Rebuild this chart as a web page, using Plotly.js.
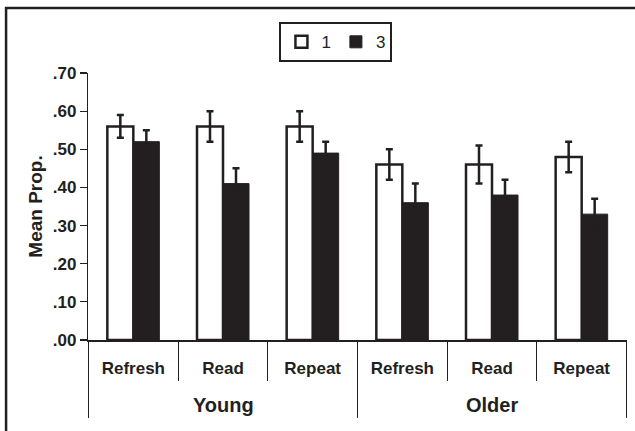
<!DOCTYPE html>
<html>
<head>
<meta charset="utf-8">
<script src="https://cdn.plot.ly/plotly-3.0.1.min.js"></script>
<style>html,body{margin:0;padding:0;background:#fff;}#chart{width:635px;height:431px;}</style>
</head>
<body>
<div id="chart"></div>
<script>
var groups = ["Young", "Young", "Young", "Older", "Older", "Older"];
var tasks = ["Refresh", "Read", "Repeat", "Refresh", "Read", "Repeat"];
var series1 = [0.56, 0.56, 0.56, 0.46, 0.46, 0.48];
var series1Err = [0.03, 0.04, 0.04, 0.04, 0.05, 0.04];
var series3 = [0.52, 0.41, 0.49, 0.36, 0.38, 0.33];
var series3Err = [0.03, 0.04, 0.03, 0.05, 0.04, 0.04];
var yTickVals = [0, 0.1, 0.2, 0.3, 0.4, 0.5, 0.6, 0.7];
var yTickText = [".00", ".10", ".20", ".30", ".40", ".50", ".60", ".70"];

var ink = "#231f20";
var FONT = "Liberation Sans, Arial, sans-serif";

// unique category keys built from the two label arrays
var xKeys = groups.map(function (g, i) { return g + " " + tasks[i]; });

var traces = [
  {
    type: "bar", name: "1", x: xKeys, y: series1,
    marker: {color: "#ffffff", line: {color: ink, width: 2.5}},
    error_y: {type: "data", array: series1Err, visible: true, color: ink, thickness: 2.5, width: 3.5}
  },
  {
    type: "bar", name: "3", x: xKeys, y: series3,
    marker: {color: ink, line: {color: ink, width: 1}},
    error_y: {type: "data", array: series3Err, visible: true, color: ink, thickness: 2.5, width: 3.5}
  }
];

// group boundaries and group centres (category index units)
var shapes = [
  {type: "rect", xref: "paper", yref: "paper", x0: -0.152, x1: 1.2, y0: -0.6, y1: 1.243,
   line: {color: ink, width: 2.5}, fillcolor: "rgba(0,0,0,0)", layer: "above"}
];
var annotations = [
  {text: "Mean Prop.", xref: "paper", yref: "paper", x: -0.098, y: 0.5,
   xanchor: "center", yanchor: "middle", textangle: -90, showarrow: false,
   font: {family: FONT, size: 19, color: ink, weight: "bold"}}
];
var bounds = [-0.5];
for (var i = 1; i < groups.length; i++) { if (groups[i] !== groups[i - 1]) bounds.push(i - 0.5); }
bounds.push(groups.length - 0.5);
bounds.forEach(function (b) {
  shapes.push({type: "line", xref: "x", yref: "paper", x0: b, x1: b, y0: 0, y1: -0.292,
               line: {color: ink, width: 1}});
});
for (var k = 0; k < bounds.length - 1; k++) {
  var c = (bounds[k] + bounds[k + 1]) / 2;
  annotations.push({text: groups[Math.round(bounds[k] + 0.5)], xref: "x", yref: "paper", x: c, y: -0.245,
    xanchor: "center", yanchor: "middle", showarrow: false,
    font: {family: FONT, size: 20, color: ink, weight: "bold"}});
}

var layout = {
  width: 635, height: 431,
  margin: {l: 88, r: 8, t: 73, b: 91},
  paper_bgcolor: "#ffffff", plot_bgcolor: "#ffffff",
  font: {family: FONT, color: ink},
  barmode: "group", bargap: 0.42, bargroupgap: 0,
  showlegend: true,
  legend: {
    orientation: "h", x: 0.46, xanchor: "center", y: 1.19, yanchor: "top",
    bordercolor: ink, borderwidth: 2, bgcolor: "#ffffff",
    font: {family: FONT, size: 17, color: ink}, itemwidth: 30, traceorder: "normal"
  },
  xaxis: {
    type: "category",
    tickvals: xKeys, ticktext: tasks,
    showline: true, linecolor: ink, linewidth: 1.5,
    ticks: "outside", tickson: "boundaries", ticklen: 39, tickwidth: 1, tickcolor: ink,
    ticklabelstandoff: 12,
    tickfont: {family: FONT, size: 17, color: ink, weight: "bold"},
    showgrid: false, zeroline: false, fixedrange: true
  },
  yaxis: {
    range: [0, 0.7],
    tickvals: yTickVals, ticktext: yTickText,
    ticks: "outside", ticklen: 7, tickwidth: 1.2, tickcolor: ink,
    showline: true, linecolor: ink, linewidth: 1.2,
    tickfont: {family: FONT, size: 17, color: ink, weight: "bold"},
    showgrid: false, zeroline: false, fixedrange: true
  },
  shapes: shapes,
  annotations: annotations
};

Plotly.newPlot("chart", traces, layout, {displayModeBar: false, staticPlot: true});
</script>
</body>
</html>
